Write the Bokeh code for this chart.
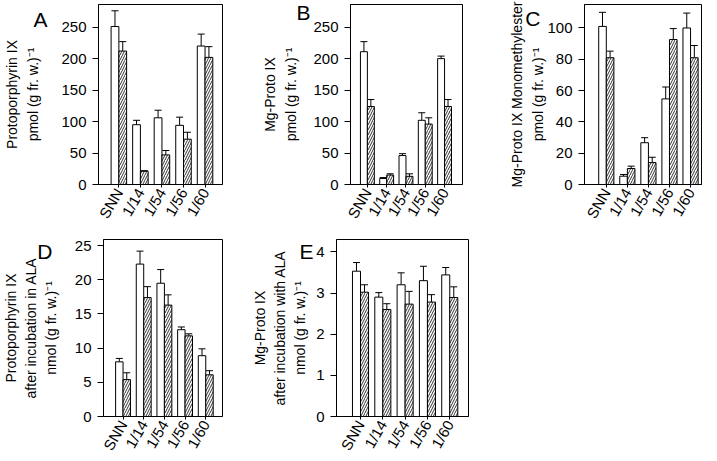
import math
from bokeh.plotting import figure
from bokeh.models import Range1d, FixedTicker, Whisker, ColumnDataSource, TeeHead, LinearAxis
from bokeh.layouts import row, column
from bokeh.embed import file_html
from bokeh.resources import INLINE

categories = ["SNN", "1/14", "1/54", "1/56", "1/60"]

a_white = [251, 95, 106, 94, 220]
a_white_err = [25, 7, 12, 13, 19]
a_hatch = [212, 21, 47, 72, 202]
a_hatch_err = [15, 1, 7, 11, 17]

b_white = [211, 9.5, 46, 102, 200]
b_white_err = [16, 1.5, 3, 12, 4]
b_hatch = [124, 15, 13, 96, 124]
b_hatch_err = [11, 2, 4, 10, 11]

c_white = [101, 5.3, 26.7, 54.7, 100]
c_white_err = [9, 1.1, 3.2, 7.6, 9.5]
c_hatch = [81, 10.2, 14, 92.6, 81]
c_hatch_err = [4.2, 1.5, 3.4, 7, 7.8]

d_white = [8.0, 22.3, 19.5, 12.7, 8.9]
d_white_err = [0.5, 1.9, 2.0, 0.4, 1.0]
d_hatch = [5.4, 17.4, 16.3, 11.8, 6.1]
d_hatch_err = [1.0, 1.6, 1.5, 0.3, 0.6]

e_white = [3.53, 2.90, 3.20, 3.30, 3.44]
e_white_err = [0.21, 0.11, 0.29, 0.35, 0.18]
e_hatch = [3.02, 2.60, 2.73, 2.78, 2.89]
e_hatch_err = [0.18, 0.14, 0.31, 0.18, 0.26]

a_ticks = [0, 50, 100, 150, 200, 250]
b_ticks = [0, 50, 100, 150, 200, 250]
c_ticks = [0, 20, 40, 60, 80, 100]
d_ticks = [0, 5, 10, 15, 20, 25]
e_ticks = [0, 1, 2, 3, 4]

FONT = "Liberation Sans"
BW = 0.36


def panel(white, werr, hatch, herr, ylabel, yticks, yr, xr, letter, letter_y,
          letter_gap, label_gap, line_h, width, height, bl, br, bt, bb):
    p = figure(width=width, height=height, output_backend="svg", toolbar_location=None,
               x_range=Range1d(*xr), y_range=Range1d(*yr),
               min_border_left=bl, min_border_right=br, min_border_top=bt, min_border_bottom=bb)
    p.outline_line_color = "black"
    p.outline_line_width = 1
    p.outline_line_alpha = 1
    p.xgrid.visible = False
    p.ygrid.visible = False
    p.background_fill_color = "white"
    p.border_fill_color = "white"
    pos = [i + 1 for i in range(len(categories))]
    xw = [x - BW / 2 for x in pos]
    xh = [x + BW / 2 for x in pos]
    p.vbar(x=xw, top=white, bottom=0, width=BW, fill_color="white", line_color="black", line_width=1)
    p.vbar(x=xh, top=hatch, bottom=0, width=BW, fill_color="white", line_color="black", line_width=1,
           hatch_pattern="/", hatch_color="black", hatch_scale=5, hatch_weight=0.8)
    for xs, v, e in ((xw, white, werr), (xh, hatch, herr)):
        src = ColumnDataSource(dict(x=xs, lo=v, up=[a + b for a, b in zip(v, e)]))
        wk = Whisker(source=src, base="x", lower="lo", upper="up", dimension="height",
                     lower_head=None, upper_head=TeeHead(size=7, line_color="black", line_width=1),
                     line_color="black", line_width=1)
        p.add_layout(wk)
    p.xaxis.ticker = FixedTicker(ticks=pos)
    p.xaxis.major_label_overrides = {x: c for x, c in zip(pos, categories)}
    p.xaxis.major_label_orientation = math.pi / 3
    p.xaxis.minor_tick_line_color = None
    p.xaxis.major_tick_in = 0
    p.xaxis.major_tick_out = 3
    p.xaxis.major_label_standoff = 2
    p.yaxis.ticker = FixedTicker(ticks=yticks)
    p.yaxis.minor_tick_line_color = None
    p.yaxis.major_tick_in = 0
    p.yaxis.major_tick_out = 6
    p.yaxis.major_label_standoff = 6
    for ax in (p.xaxis, p.yaxis):
        ax.axis_line_color = "black"
        ax.major_tick_line_color = "black"
        ax.major_label_text_font = FONT
        ax.major_label_text_color = "black"
    p.yaxis.major_label_text_font_size = "15px"
    p.xaxis.major_label_text_font_size = "15px"
    # outer left axis: carries the panel letter as its only tick label, plus the axis title
    lax = LinearAxis(ticker=FixedTicker(ticks=[letter_y]),
                     major_label_overrides={letter_y: letter})
    lax.axis_line_color = None
    lax.major_tick_line_color = None
    lax.minor_tick_line_color = None
    lax.major_tick_in = 0
    lax.major_tick_out = 0
    lax.major_label_standoff = letter_gap
    lax.major_label_text_font = FONT
    lax.major_label_text_font_size = "21px"
    lax.major_label_text_color = "black"
    lax.axis_label = ylabel
    lax.axis_label_standoff = label_gap
    lax.axis_label_text_font = FONT
    lax.axis_label_text_font_size = "14px"
    lax.axis_label_text_font_style = "normal"
    lax.axis_label_text_color = "black"
    lax.axis_label_text_line_height = line_h
    p.add_layout(lax, "left")
    return p


# Row 1: page y 0..228, frame 4..187
fA = panel(a_white, a_white_err, a_hatch, a_hatch_err,
           "Protoporphyrin IX\npmol (g fr. w.)\u207b\u00b9", a_ticks, (0, 286), (0.055, 5.81),
           "A", 262.6, 11, -11, 1.35, 258, 228, 96, 36, 4, 41)
fB = panel(b_white, b_white_err, b_hatch, b_hatch_err,
           "Mg-Proto IX\npmol (g fr. w.)\u207b\u00b9", b_ticks, (0, 286), (0.125, 5.93),
           "B", 272.7, 0, -6, 1.35, 247, 228, 78, 43, 4, 41)
fC = panel(c_white, c_white_err, c_hatch, c_hatch_err,
           "Mg-Proto IX Monomethylester\npmol (g fr. w.)\u207b\u00b9", c_ticks, (0, 115), (-0.035, 5.52),
           "C", 105.9, 4, -24, 1.35, 212, 228, 78, 16, 4, 41)
# Row 2: page y 228..460, frame 239..422
fD = panel(d_white, d_white_err, d_hatch, d_hatch_err,
           "Protoporphyrin IX\nafter incubation in ALA\nnmol (g fr. w.)\u207b\u00b9", d_ticks, (0, 25.9), (0.055, 5.81),
           "D", 24.2, 19, -25, 1.25, 240, 232, 96, 18, 11, 38)
fE = panel(e_white, e_white_err, e_hatch, e_hatch_err,
           "Mg-Proto IX\nafter incubation with ALA\nnmol (g fr. w.)\u207b\u00b9", e_ticks, (0, 4.3), (-0.076, 5.84),
           "E", 4.006, 0, -12, 1.25, 240, 232, 96, 12, 11, 38)

layout = column(row(fA, fB, fC), row(fD, fE))

open("out.html", "w").write(file_html(layout, INLINE))
